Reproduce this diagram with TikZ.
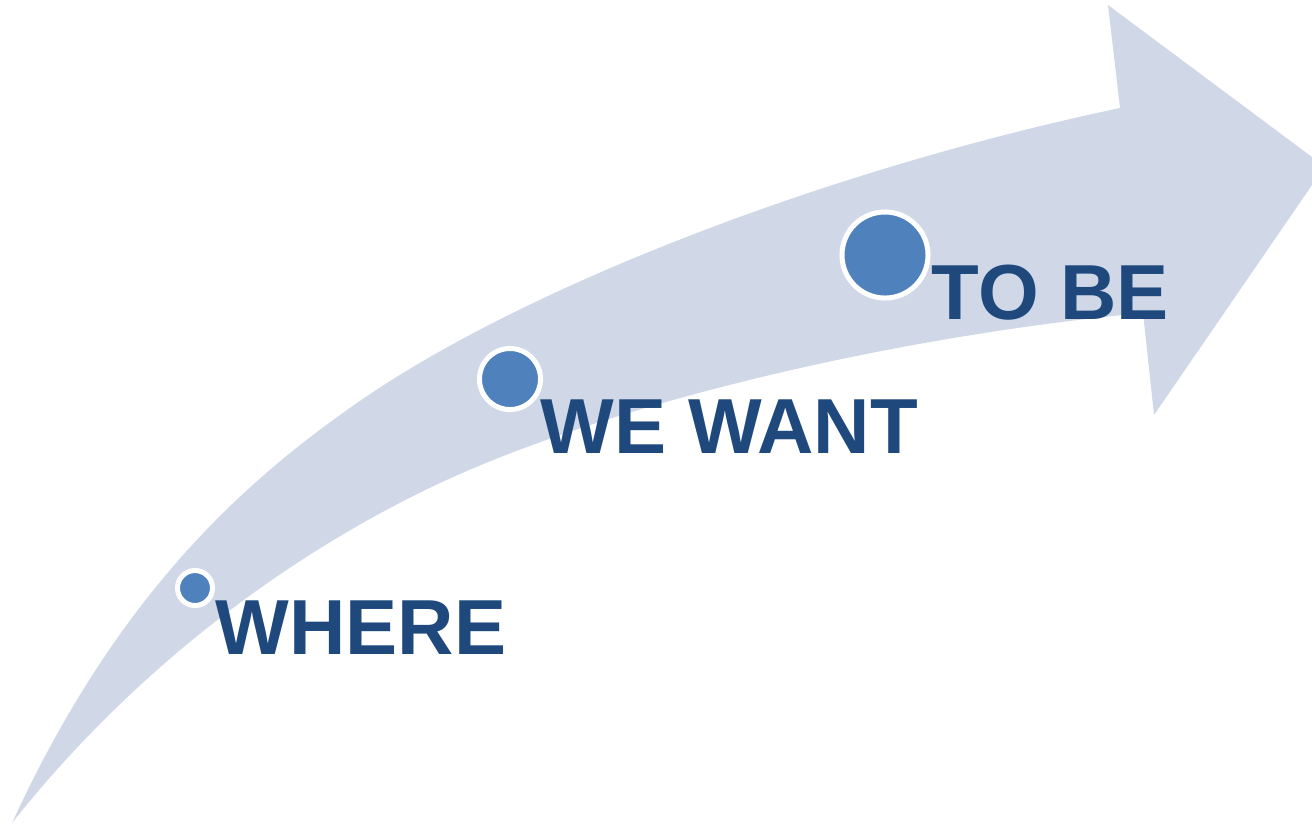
\documentclass[tikz,border=0pt]{standalone}
\usepackage{fontspec}
\setmainfont{Liberation Sans}
\definecolor{arrowfill}{HTML}{D0D8E8}
\definecolor{dotfill}{HTML}{4F81BD}
\definecolor{labeltext}{HTML}{1F497D}

\begin{document}
\begin{tikzpicture}[x=0.01cm, y=-0.01cm,
		dot/.style={circle, fill=dotfill, draw=white, line width=0.05cm, inner sep=0},
		steplabel/.style={anchor=base west, inner sep=0, text=labeltext, font=\fontsize{22.2}{27}\selectfont\bfseries}]
			%%%%% START %%%%%
			
			\useasboundingbox (0, 0) rectangle (1312, 826);
			
			% curved band with its head
			\fill[arrowfill] (12, 823) .. controls (110, 610) and (228, 494) .. (347, 410)
				.. controls (511, 292) and (821, 171) .. (1120, 108)
				-- (1108, 5) -- (1312, 157) -- (1312, 185) -- (1154, 415) -- (1143, 313)
				.. controls (888, 337) and (607, 405) .. (440, 483)
				.. controls (276, 560) and (126, 679) .. (12, 823) -- cycle;
			
			\node[dot, minimum size=0.35cm] (dotwhere) at (195, 588) {};
			\node[dot, minimum size=0.61cm] (dotwant) at (510, 379) {};
			\node[dot, minimum size=0.86cm] (dotbe) at (885, 255) {};
			
			\node[steplabel] (where) at (215, 654) {WHERE};
			\node[steplabel] (wewant) at (540, 453) {WE WANT};
			\node[steplabel] (tobe) at (931, 319) {TO BE};
			
			%%%%% END %%%%%
		\end{tikzpicture}
\end{document}
